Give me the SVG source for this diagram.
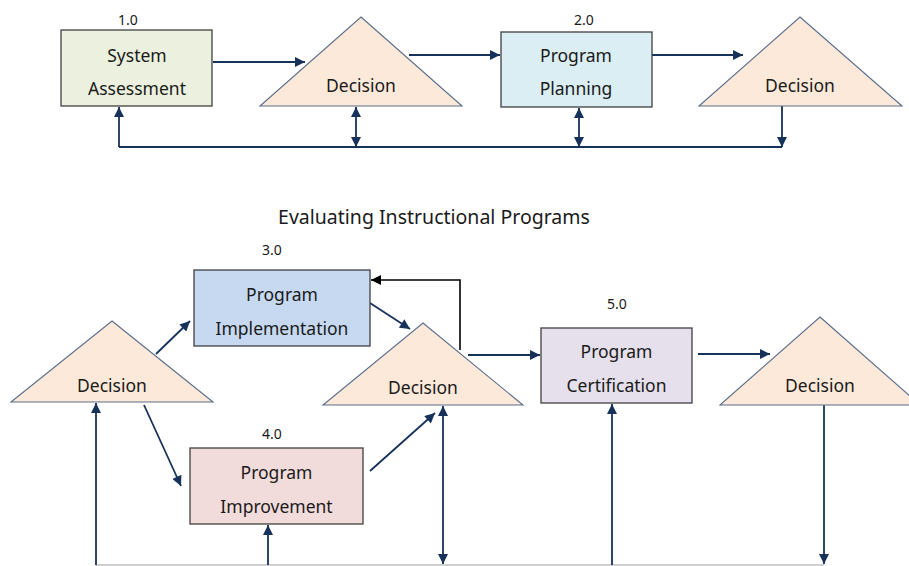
<svg xmlns="http://www.w3.org/2000/svg" width="909" height="566" viewBox="0 0 909 566">
<defs>
<marker id="a" viewBox="0 0 10 10" refX="10" refY="5" markerWidth="11" markerHeight="10" markerUnits="userSpaceOnUse" orient="auto-start-reverse"><path d="M0,0 L10,5 L0,10 z" fill="#17325A"/></marker>
<marker id="ab" viewBox="0 0 10 10" refX="10" refY="5" markerWidth="11" markerHeight="10" markerUnits="userSpaceOnUse" orient="auto-start-reverse"><path d="M0,0 L10,5 L0,10 z" fill="#000"/></marker>
</defs>
<style>
text{font-family:"Noto Sans","DejaVu Sans",sans-serif;fill:#1a1a1a;text-anchor:middle}
.lbl{font-size:17.5px}
.num{font-size:14px}
.ttl{font-size:19.5px}
.box{stroke:#404040;stroke-width:1.3}
.tri{fill:#FDE9D9;stroke:#5B6E8C;stroke-width:1.1}
.c{stroke:#17325A;stroke-width:1.8;fill:none}
.ce{marker-end:url(#a)}
.cb{marker-start:url(#a);marker-end:url(#a)}
.k{stroke:#000;stroke-width:1.6;fill:none;marker-end:url(#ab)}
.g{stroke:#BFBFBF;stroke-width:1.5;fill:none}
</style>
<rect width="909" height="566" fill="#fff"/>
<text class="ttl" x="434" y="224">Evaluating Instructional Programs</text>

<g id="connectors">
<line class="c ce" x1="213" y1="62" x2="305" y2="62"/>
<line class="c ce" x1="409" y1="55" x2="500" y2="55"/>
<line class="c ce" x1="652" y1="55" x2="743" y2="55"/>
<line class="c ce" x1="782" y1="106" x2="782" y2="147"/>
<line class="c" x1="119" y1="147" x2="782" y2="147"/>
<line class="c ce" x1="119" y1="147" x2="119" y2="107"/>
<line class="c cb" x1="356" y1="107" x2="356" y2="147"/>
<line class="c cb" x1="579" y1="108" x2="579" y2="147"/>

<line class="c ce" x1="156" y1="354" x2="190" y2="321"/>
<line class="c ce" x1="144" y1="405" x2="181" y2="486"/>
<line class="c ce" x1="370" y1="303" x2="410" y2="329"/>
<line class="c ce" x1="370" y1="471" x2="435" y2="413"/>
<path class="k" d="M460,350 V280 H371"/>
<line class="c ce" x1="468" y1="355" x2="540" y2="355"/>
<line class="c ce" x1="698" y1="354" x2="770" y2="354"/>
<line class="g" x1="96" y1="565" x2="824" y2="565"/>
<line class="c cb" x1="443" y1="406" x2="443" y2="564"/>
<line class="c ce" x1="96" y1="565" x2="96" y2="403"/>
<line class="c ce" x1="268" y1="565" x2="268" y2="525"/>
<line class="c ce" x1="612" y1="565" x2="612" y2="404"/>
<line class="c ce" x1="824" y1="405" x2="824" y2="564"/>
</g>

<g id="n1">
<rect class="box" x="61" y="30" width="151" height="76" fill="#EBF1DE"/>
<text class="num" x="128" y="25">1.0</text>
<text class="lbl" x="137" y="62">System</text>
<text class="lbl" x="137" y="95">Assessment</text>
</g>
<g id="d1">
<polygon class="tri" points="361,17 462,106 260,106"/>
<text class="lbl" x="361" y="92">Decision</text>
</g>
<g id="n2">
<rect class="box" x="501" y="32" width="151" height="75" fill="#DAEEF3"/>
<text class="num" x="584" y="25">2.0</text>
<text class="lbl" x="576" y="62">Program</text>
<text class="lbl" x="576" y="95">Planning</text>
</g>
<g id="d2">
<polygon class="tri" points="800,17 902,106 699,106"/>
<text class="lbl" x="800" y="92">Decision</text>
</g>

<g id="n3">
<rect class="box" x="194" y="270" width="176" height="76" fill="#C6D9F1"/>
<text class="num" x="272" y="255">3.0</text>
<text class="lbl" x="282" y="301">Program</text>
<text class="lbl" x="282" y="335">Implementation</text>
</g>
<g id="dL">
<polygon class="tri" points="112,321 213,402 11,402"/>
<text class="lbl" x="112" y="392">Decision</text>
</g>
<g id="n4">
<rect class="box" x="190" y="448" width="173" height="76" fill="#F2DCDB"/>
<text class="num" x="272" y="439">4.0</text>
<text class="lbl" x="276.5" y="479">Program</text>
<text class="lbl" x="276.5" y="513">Improvement</text>
</g>
<g id="dM">
<polygon class="tri" points="423,323 523,405 323,405"/>
<text class="lbl" x="423" y="394">Decision</text>
</g>
<g id="n5">
<rect class="box" x="541" y="328" width="151" height="75" fill="#E5E0EC"/>
<text class="num" x="617" y="309">5.0</text>
<text class="lbl" x="616.5" y="358">Program</text>
<text class="lbl" x="616.5" y="392">Certification</text>
</g>
<g id="dR">
<polygon class="tri" points="820,317 920,405 720,405"/>
<text class="lbl" x="820" y="392">Decision</text>
</g>
</svg>
